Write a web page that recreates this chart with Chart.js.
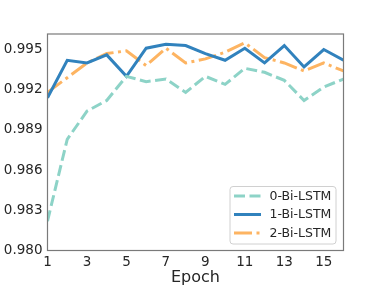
<!DOCTYPE html>
<html>
<head>
<meta charset="utf-8">
<script src="https://cdn.jsdelivr.net/npm/chart.js@4/dist/chart.umd.min.js"></script>
<style>
  html, body { margin: 0; padding: 0; background: #fff; }
  #wrap { width: 382px; height: 287px; }
</style>
</head>
<body>
<div id="wrap"><canvas id="chart"></canvas></div>
<script>
// values
const epochs = [1, 2, 3, 4, 5, 6, 7, 8, 9, 10, 11, 12, 13, 14, 15, 16];
const biLstm0 = [0.9822, 0.9883, 0.9904, 0.9912, 0.9930, 0.9926, 0.9928, 0.9918, 0.9930, 0.9924, 0.9936, 0.9933, 0.9927, 0.9912, 0.9922, 0.9928];
const biLstm1 = [0.9914, 0.9942, 0.9940, 0.9946, 0.9930, 0.9951, 0.9954, 0.9953, 0.9947, 0.9942, 0.9951, 0.9940, 0.9953, 0.9937, 0.9950, 0.9942];
const biLstm2 = [0.9918, 0.9929, 0.9940, 0.9947, 0.9949, 0.9938, 0.9951, 0.9940, 0.9943, 0.9948, 0.9955, 0.9944, 0.9940, 0.9934, 0.9940, 0.9934];
const seriesNames = ['0-Bi-LSTM', '1-Bi-LSTM', '2-Bi-LSTM'];
const xTicks = [1, 3, 5, 7, 9, 11, 13, 15];
const yTicks = [0.980, 0.983, 0.986, 0.989, 0.992, 0.995];

const FONT = "'DejaVu Sans', sans-serif";
const TEXT = '#262626';

function pts(vals) {
  return epochs.map((e, i) => ({ x: e, y: vals[i] }));
}

// box around the plot area
const framePlugin = {
  id: 'frame',
  afterDatasetsDraw(chart) {
    const a = chart.chartArea, ctx = chart.ctx;
    ctx.save();
    ctx.strokeStyle = '#7a7a7a';
    ctx.lineWidth = 1.2;
    ctx.strokeRect(a.left, a.top, a.right - a.left, a.bottom - a.top);
    ctx.restore();
  }
};

// legend in the lower right corner of the axes
const legendPlugin = {
  id: 'innerLegend',
  afterDraw(chart) {
    const ctx = chart.ctx;
    const x0 = 230, y0 = 186.5, w = 106, h = 57.5;
    ctx.save();
    ctx.beginPath();
    ctx.roundRect(x0, y0, w, h, 3);
    ctx.fillStyle = 'rgba(255,255,255,0.85)';
    ctx.fill();
    ctx.strokeStyle = '#d0d0d0';
    ctx.lineWidth = 1;
    ctx.stroke();
    chart.data.datasets.forEach((ds, i) => {
      const y = 196 + i * 18.5;
      ctx.beginPath();
      ctx.setLineDash(ds.borderDash || []);
      ctx.strokeStyle = ds.borderColor;
      ctx.lineWidth = ds.borderWidth;
      ctx.moveTo(234, y);
      ctx.lineTo(261, y);
      ctx.stroke();
      ctx.setLineDash([]);
      ctx.fillStyle = TEXT;
      ctx.font = '12.5px ' + FONT;
      ctx.textBaseline = 'middle';
      ctx.textAlign = 'left';
      ctx.fillText(ds.label, 269.5, y + 0.5);
    });
    ctx.restore();
  }
};

new Chart(document.getElementById('chart'), {
  type: 'line',
  data: {
    datasets: [
      { label: seriesNames[0], data: pts(biLstm0), borderColor: '#8dd3c7', borderWidth: 3, borderDash: [11, 4.5], pointRadius: 0, tension: 0, fill: false },
      { label: seriesNames[1], data: pts(biLstm1), borderColor: '#3182bd', borderWidth: 3, pointRadius: 0, tension: 0, fill: false },
      { label: seriesNames[2], data: pts(biLstm2), borderColor: '#fdb462', borderWidth: 3, borderDash: [18, 4.5, 3, 4.5], pointRadius: 0, tension: 0, fill: false }
    ]
  },
  options: {
    responsive: true,
    maintainAspectRatio: false,
    animation: false,
    devicePixelRatio: 1,
    layout: { padding: { left: 0, right: 38.5, top: 34, bottom: 0 } },
    plugins: { legend: { display: false }, tooltip: { enabled: false } },
    scales: {
      x: {
        type: 'linear',
        min: 1,
        max: 16,
        afterBuildTicks: s => { s.ticks = xTicks.map(v => ({ value: v })); },
        afterFit: s => { s.height = 36.5; },
        grid: { display: false, drawTicks: false },
        border: { display: false },
        ticks: { color: TEXT, font: { family: FONT, size: 13.5 }, padding: 4, maxRotation: 0, autoSkip: false },
        title: { display: true, text: 'Epoch', color: TEXT, font: { family: FONT, size: 16 }, padding: { top: 0, bottom: 0 } }
      },
      y: {
        min: 0.980,
        max: 0.99616,
        afterBuildTicks: s => { s.ticks = yTicks.map(v => ({ value: v })); },
        afterFit: s => { s.width = 47.5; },
        grid: { display: false, drawTicks: false },
        border: { display: false },
        ticks: { color: TEXT, font: { family: FONT, size: 13.5 }, padding: 5, autoSkip: false, callback: v => v.toFixed(3) }
      }
    }
  },
  plugins: [framePlugin, legendPlugin]
});
</script>
</body>
</html>
